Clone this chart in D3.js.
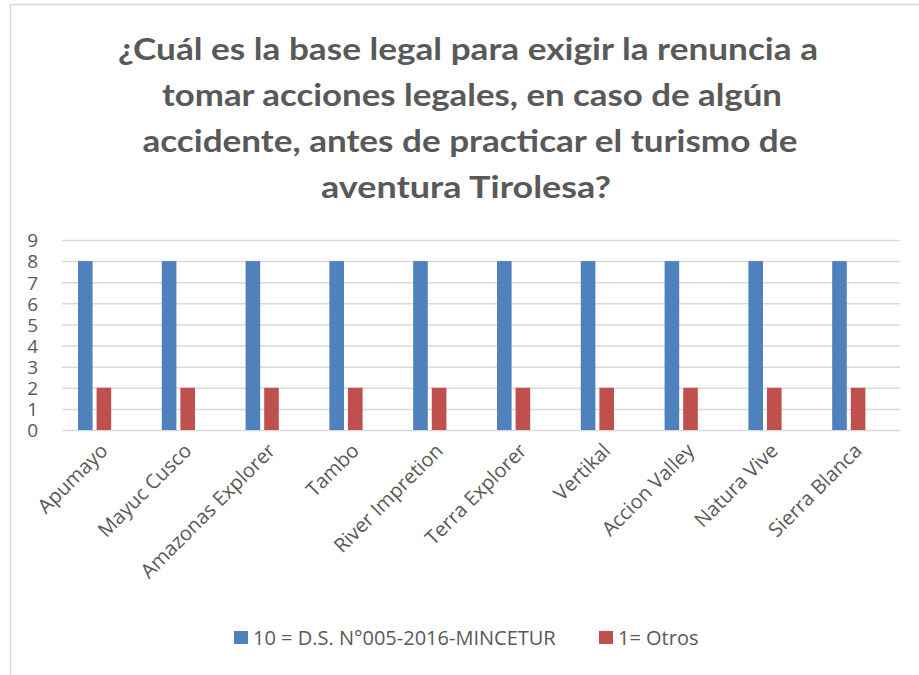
<!DOCTYPE html>
<html><head><meta charset="utf-8">
<script src="https://cdn.jsdelivr.net/npm/d3@7"></script>
<style>body{margin:0;background:#fff}svg{display:block}</style>
</head><body>
<svg id="c" width="919" height="675"></svg>
<script>
const titleLines = ["¿Cuál es la base legal para exigir la renuncia a",
  "tomar acciones legales, en caso de algún",
  "accidente, antes de practicar el turismo de",
  "aventura Tirolesa?"];
const categories = ["Apumayo","Mayuc Cusco","Amazonas Explorer","Tambo","River Impretion","Terra Explorer","Vertikal","Accion Valley","Natura Vive","Sierra Blanca"];
const seriesNames = ["10 = D.S. N°005-2016-MINCETUR","1= Otros"];
const seriesDS = [8,8,8,8,8,8,8,8,8,8];
const seriesOtros = [2,2,2,2,2,2,2,2,2,2];
const yTicks = [0,1,2,3,4,5,6,7,8,9];
const colors = ["#4F81BD","#C0504D"];

const svg = d3.select("#c");
const txt = "#595959";

// chart border
svg.append("path").attr("d","M10.5,680 L10.5,4.5 L925,4.5").attr("fill","none").attr("stroke","#d9d9d9").attr("stroke-width",1.5);

// title
const tW = [700, 620, 655, 290];
const tX = [468, 472, 470, 466];
const tY = [60, 106, 152, 198];
titleLines.forEach((t,i)=>{
  const el = svg.append("text").text(t)
    .attr("x", tX[i]).attr("y", tY[i]).attr("text-anchor","middle")
    .attr("font-family","Lato, 'Open Sans', sans-serif").attr("font-weight","bold")
    .attr("font-size",31).attr("fill",txt);
  el.attr("textLength", tW[i]).attr("lengthAdjust","spacingAndGlyphs");
});

const y = d3.scaleLinear().domain([0,9]).range([430,240]);
const x0 = d3.scaleBand().domain(categories).range([62,900]);
const x1 = d3.scaleBand().domain(seriesNames).range([0, x0.bandwidth()])
  .paddingInner(0.215).paddingOuter(1.36).align(0.316);

// gridlines + y labels
const yAxis = d3.axisLeft(y).tickValues(yTicks).tickSize(-(900-62)).tickPadding(24).tickFormat(d3.format("d"));
const ya = svg.append("g").attr("transform","translate(62,0)").call(yAxis);
ya.select(".domain").remove();
ya.selectAll(".tick line").attr("stroke","#d9d9d9").attr("stroke-width",1.5);
ya.selectAll(".tick text").attr("font-family","'Open Sans', sans-serif").attr("font-size",19).attr("fill",txt).attr("dy","0.36em");

// bars
const data = categories.map((c,i)=>({c, vals:[seriesDS[i], seriesOtros[i]]}));
const grp = svg.append("g").selectAll("g").data(data).join("g")
  .attr("transform", d=>`translate(${x0(d.c)},0)`);
grp.selectAll("rect").data(d=>d.vals.map((v,j)=>({s:seriesNames[j], v, j})))
  .join("rect")
  .attr("x", d=>x1(d.s)).attr("width", x1.bandwidth())
  .attr("y", d=>y(d.v)).attr("height", d=>y(0)-y(d.v))
  .attr("fill", d=>colors[d.j]);

// x axis labels
const xa = svg.append("g").attr("transform","translate(0,430)")
  .call(d3.axisBottom(x0).tickSize(0).tickPadding(0));
xa.select(".domain").remove();
xa.selectAll(".tick text")
  .attr("font-family","'Open Sans', sans-serif").attr("font-size",20).attr("fill",txt)
  .attr("text-anchor","end").attr("dy",0).attr("y",0)
  .attr("transform","translate(5,22) rotate(-45)");

// legend
const lx = [234, 599];
const leg = svg.append("g");
seriesNames.forEach((s,i)=>{
  leg.append("rect").attr("x",lx[i]).attr("y",631).attr("width",14).attr("height",13).attr("fill",colors[i]);
  leg.append("text").attr("x",lx[i]+19).attr("y",645).text(s)
    .attr("font-family","'Open Sans', sans-serif").attr("font-size",20).attr("fill",txt);
});
</script>
</body></html>
